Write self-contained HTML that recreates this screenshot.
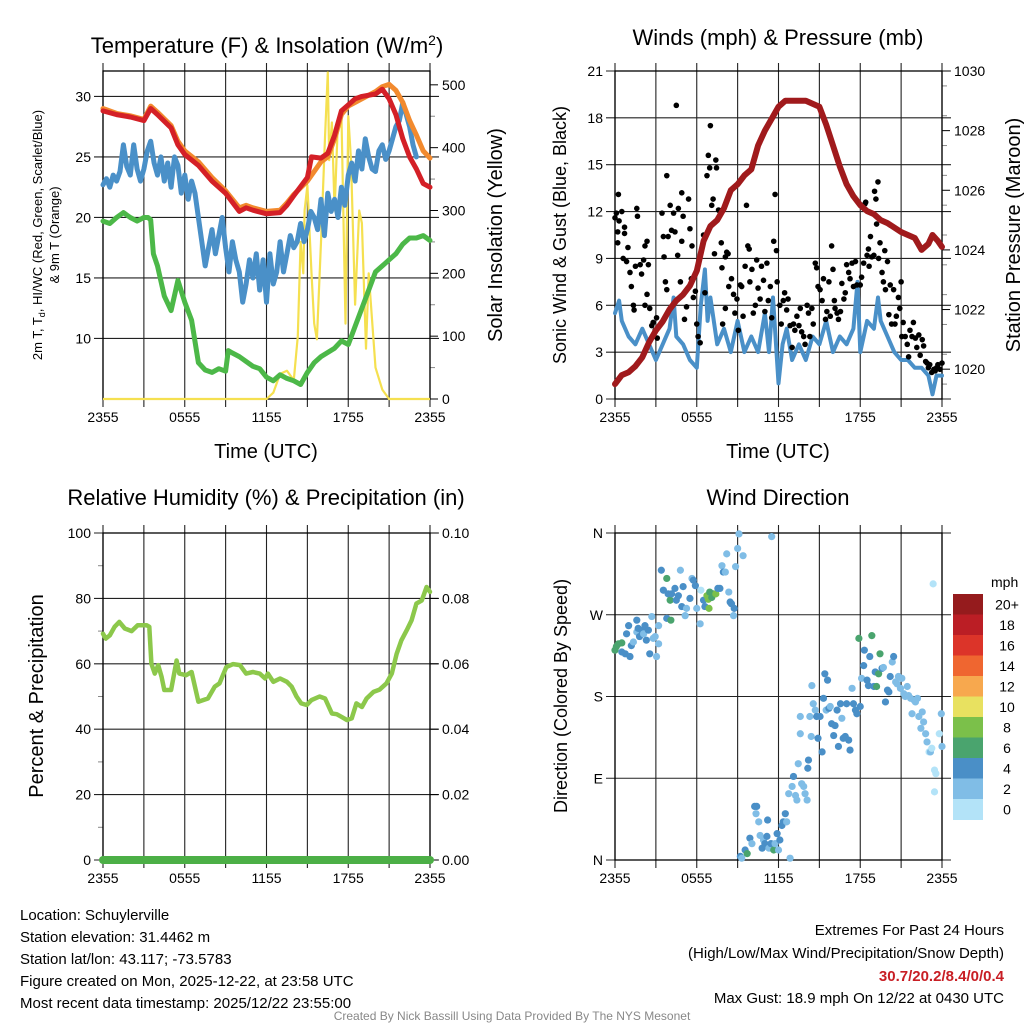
<!DOCTYPE html>
<html><head><meta charset="utf-8">
<style>
html,body{margin:0;padding:0;background:#fff;}
svg{display:block;font-family:"Liberation Sans",Arial,sans-serif;}
</style></head>
<body>
<svg id="fig" width="1024" height="1024" viewBox="0 0 1024 1024" xmlns="http://www.w3.org/2000/svg">
<rect x="0" y="0" width="1024" height="1024" fill="#fff"/>
<text x="267" y="53" font-size="22" text-anchor="middle">Temperature (F) &amp; Insolation (W/m<tspan dy="-8" font-size="14">2</tspan><tspan dy="8">)</tspan></text>
<text x="778" y="45" font-size="22" text-anchor="middle">Winds (mph) &amp; Pressure (mb)</text>
<text x="266" y="505" font-size="22" text-anchor="middle">Relative Humidity (%) &amp; Precipitation (in)</text>
<text x="778" y="505" font-size="22" text-anchor="middle">Wind Direction</text>

<text transform="translate(42,235) rotate(-90)" font-size="13" text-anchor="middle">2m T, T<tspan dy="3" font-size="9">d</tspan><tspan dy="-3">, HI/WC (Red, Green, Scarlet/Blue)</tspan></text>
<text transform="translate(59,235) rotate(-90)" font-size="13" text-anchor="middle">&amp; 9m T (Orange)</text>
<text transform="translate(502,235) rotate(-90)" font-size="20" text-anchor="middle">Solar Insolation (Yellow)</text>
<text transform="translate(566,235) rotate(-90)" font-size="18" text-anchor="middle">Sonic Wind &amp; Gust (Blue, Black)</text>
<text transform="translate(1020,235) rotate(-90)" font-size="20" text-anchor="middle">Station Pressure (Maroon)</text>
<text transform="translate(43,696) rotate(-90)" font-size="20" text-anchor="middle">Percent &amp; Precipitation</text>
<text transform="translate(567,696) rotate(-90)" font-size="18" text-anchor="middle">Direction (Colored By Speed)</text>
<text x="266" y="458" font-size="20" text-anchor="middle">Time (UTC)</text>
<text x="778" y="458" font-size="20" text-anchor="middle">Time (UTC)</text>

<g font-size="15">
<text x="20" y="920">Location: Schuylerville</text>
<text x="20" y="942">Station elevation: 31.4462 m</text>
<text x="20" y="964">Station lat/lon: 43.117; -73.5783</text>
<text x="20" y="986">Figure created on Mon, 2025-12-22, at 23:58 UTC</text>
<text x="20" y="1008">Most recent data timestamp: 2025/12/22 23:55:00</text>
</g>
<g font-size="15" text-anchor="end">
<text x="1004" y="935">Extremes For Past 24 Hours</text>
<text x="1004" y="958">(High/Low/Max Wind/Precipitation/Snow Depth)</text>
<text x="1004" y="981" fill="#c81e24" font-weight="bold">30.7/20.2/8.4/0/0.4</text>
<text x="1004" y="1003">Max Gust: 18.9 mph On 12/22 at 0430 UTC</text>
</g>
<text x="512" y="1020" font-size="12" fill="#888" text-anchor="middle">Created By Nick Bassill Using Data Provided By The NYS Mesonet</text>
</svg>
<script>
// ===== data =====
const xTickLabels = ["2355","0555","1155","1755","2355"];
const tempTicks = [10,15,20,25,30];
const solarTicks = [0,100,200,300,400,500];
const windTicks = [0,3,6,9,12,15,18,21];
const presTicks = [1020,1022,1024,1026,1028,1030];
const rhTicks = [0,20,40,60,80,100];
const precipTickLabels = ["0.00","0.02","0.04","0.06","0.08","0.10"];
const dirTickLabels = ["N","E","S","W","N"];
const cbLabels = ["20+","18","16","14","12","10","8","6","4","2","0"];
const cbColors = ["#951b1d","#bb1e25","#dc3429","#ef6630","#f7a84e","#e8e160","#7bc04a","#4aa46e","#4a8fc7","#80bde6","#b3e3f8"];

const redHours = [0,1,2,3,3.5,4,5,5.5,6,7,8,9,10,10.5,11,12,13,13.5,14,15,15.3,16,16.5,17,17.5,18,18.5,19,20,20.5,21,21.5,22,22.5,23,23.5,24];
const redTemp = [28.8,28.5,28.3,28.0,29.0,28.5,27.4,26.0,25.2,24.3,23.0,22.0,20.5,20.8,20.6,20.3,20.4,21.0,21.8,23.3,25.0,24.9,25.3,26.8,28.8,29.3,29.8,30.0,30.2,30.6,29.8,28.5,26.5,25.0,24.0,22.8,22.5];
const orangeHours = [0,1,2,3,3.5,4,5,5.5,6,7,8,9,10,10.5,11,12,13,13.5,14,15,16,16.5,17,17.5,18,19,20,20.5,21,21.5,22,22.5,23,23.5,24];
const orangeTemp = [29.0,28.6,28.4,28.1,29.2,28.7,27.6,26.3,25.5,24.6,23.3,22.2,20.8,21.0,20.8,20.5,20.6,21.2,21.9,23.0,24.6,25.0,26.5,28.5,29.2,29.8,30.4,30.8,31.0,30.5,29.5,28.0,26.8,25.5,24.9];
const greenHours = [0,0.5,1,1.5,2,2.5,3,3.3,3.5,3.7,4,4.5,5,5.5,6,6.5,7,7.5,8,8.5,9,9.2,9.5,10,11,11.5,12,12.5,13,13.5,14,14.5,15,15.5,16,17,17.5,18,18.5,19,19.5,20,20.5,21,21.5,22,22.5,23,23.5,24];
const greenTemp = [19.7,19.5,20.0,20.4,20.0,19.7,20.0,20.0,19.8,17.0,16.0,13.5,12.3,14.8,13.0,11.5,8.0,7.4,7.2,7.5,7.3,9.0,8.8,8.5,7.7,7.5,6.8,6.5,7.0,6.7,6.5,6.2,7.2,8.0,8.5,9.2,9.8,9.5,11.0,12.5,14.0,15.5,16.0,16.5,17.0,17.8,18.3,18.3,18.5,18.1];
const blueTemp = [22.7,23.2,22.5,23.5,23.0,23.8,26.0,24.2,23.5,26.0,24.0,23.0,24.0,25.5,26.3,24.5,23.5,25.0,23.0,24.5,22.5,25.0,24.3,22.0,23.5,21.5,23.0,22.0,20.0,18.0,16.0,17.5,19.0,17.0,18.5,20.0,17.5,15.5,18.0,16.5,15.5,13.0,14.5,16.5,15.0,17.0,14.0,16.5,13.0,17.0,14.5,15.5,18.0,15.5,17.0,18.5,17.5,18.0,19.5,18.0,19.0,20.5,20.0,19.0,21.5,18.5,22.0,20.5,21.5,20.0,22.5,21.0,23.5,24.5,23.0,25.5,24.0,26.5,25.0,24.0,23.8,25.5,26.0,24.8,25.5,26.5,27.5,28.0,29.5,28.5,27.5,26.0,25.0];
const solarHours = [0,12,12.5,13,13.5,14,14.3,14.5,14.7,14.8,15,15.3,15.5,15.7,16,16.3,16.5,16.6,16.8,17,17.2,17.5,17.8,18,18.2,18.5,18.8,19,19.3,19.5,20,20.5,21,24];
const solarVals = [0,0,10,40,45,30,100,250,200,300,340,200,120,95,250,420,520,380,440,300,420,455,120,450,380,150,300,280,80,200,50,15,0,0];

const presHours = [0,0.5,1,1.5,2,2.5,3,3.5,4,4.5,5,5.5,6,6.5,7,7.5,8,8.5,9,9.5,10,10.5,11,11.5,12,12.5,13,13.5,14,14.5,15,15.5,16,16.5,17,17.5,18,18.5,19,19.5,20,21,21.5,22,22.5,23,23.3,23.7,24];
const presVals = [1019.5,1019.8,1019.9,1020.1,1020.4,1020.9,1021.3,1021.6,1022.0,1022.3,1022.5,1022.8,1023.3,1024.3,1024.8,1025.0,1025.4,1026.0,1026.2,1026.5,1026.7,1027.5,1028.0,1028.4,1028.8,1029.0,1029.0,1029.0,1029.0,1028.9,1028.8,1028.2,1027.5,1026.8,1026.2,1025.8,1025.5,1025.3,1025.2,1025.0,1024.9,1024.6,1024.5,1024.4,1024.0,1024.2,1024.5,1024.3,1024.1];
const windHours = [0,0.3,0.5,1,1.5,2,2.5,3,3.5,4,4.3,4.5,5,5.5,6,6.3,6.6,6.8,7,7.5,8,8.5,9,9.5,10,10.5,11,11.3,11.6,12,12.3,12.6,13,13.5,14,14.5,15,15.5,16,16.5,17,17.5,17.8,18,18.5,19,19.3,19.5,20,20.5,21,21.5,22,22.5,23,23.3,23.6,24];
const windVals = [5.5,6.3,5.0,4.0,3.5,4.5,3.5,2.5,3.5,4.5,6.5,4.0,3.5,2.5,2.0,6.0,8.3,5.0,6.5,3.5,4.5,3.0,5.0,3.0,4.0,3.0,5.5,3.0,6.5,1.0,3.5,4.5,2.5,3.5,2.5,4.0,3.5,5.0,3.0,4.0,3.5,4.5,7.5,3.0,5.0,4.5,6.5,5.0,4.0,3.0,2.5,2.5,2.0,2.0,1.5,0.3,1.5,1.5];
const gustHours = [0,0.1,0.25,0.5,0.2,0.2,0.3,0.7,0.7,0.6,0.95,0.85,1.1,1.2,1.35,1.4,1.6,1.65,1.5,1.85,1.95,2.1,2.2,2.35,2.45,2.2,2.35,2.55,2.7,2.8,2.95,3.05,3.1,3.45,3.55,3.6,3.7,3.8,3.8,3.9,4.05,4.15,4.3,4.4,4.5,4.6,4.65,4.8,4.9,4.9,5.0,5.1,5.25,5.4,5.5,5.6,5.65,5.75,5.9,6.0,6.1,6.25,6.5,6.6,6.75,6.85,6.95,7.0,7.1,7.2,7.3,7.4,7.45,7.6,7.7,7.8,7.85,7.9,8.1,8.1,8.2,8.3,8.35,8.55,8.7,8.8,8.95,9.05,9.2,9.3,9.4,9.55,9.65,9.75,9.85,9.9,10.05,10.15,10.3,10.4,10.5,10.65,10.75,10.9,11.0,11.15,11.25,11.4,11.5,11.65,11.75,11.85,11.9,12.1,12.2,12.35,12.45,12.6,12.7,12.85,13.0,13.1,13.2,13.35,13.5,13.6,13.7,13.85,13.95,14.1,14.2,14.3,14.45,14.55,14.7,14.8,14.9,15.05,15.2,15.3,15.45,15.55,15.7,15.8,15.9,16.0,16.1,16.15,16.3,16.4,16.55,16.65,16.8,16.9,17.0,17.15,17.25,17.4,17.5,17.65,17.75,18.0,18.1,18.25,18.35,18.4,18.5,18.6,18.65,18.75,18.85,19.0,19.05,19.15,19.2,19.3,19.35,19.45,19.6,19.7,19.8,19.85,20.0,20.1,20.2,20.3,20.45,20.55,20.65,20.8,20.9,21.0,21.05,21.15,21.3,21.45,21.55,21.65,21.8,21.9,22.05,22.15,22.3,22.4,22.55,22.65,22.8,22.9,23.0,23.1,23.25,23.4,23.5,23.6,23.7,23.85,24.0];
const gustVals = [11.6,11.9,13.1,12.0,10.7,10.0,11.4,10.6,11.0,9.0,9.7,8.8,8.1,7.2,6.0,5.7,12.2,11.7,8.5,8.6,8.0,8.9,9.8,10.1,8.6,6.0,6.7,5.8,4.7,4.9,4.4,5.2,3.9,11.9,10.4,9.1,7.5,7.0,14.3,10.4,12.4,10.8,11.9,10.7,18.8,9.2,12.2,7.5,13.2,10.1,11.7,5.1,5.9,12.8,10.9,7.7,9.8,6.5,6.9,4.8,4.0,3.6,10.5,6.8,14.3,15.6,14.8,17.5,12.4,12.8,9.3,15.3,14.8,12.1,12.0,10.0,8.4,4.8,5.8,9.1,9.4,9.3,7.2,7.7,6.7,5.5,6.4,4.4,7.3,7.2,5.3,8.5,12.4,9.8,9.6,7.5,8.3,5.5,6.0,8.9,7.1,6.4,8.5,7.6,5.6,8.7,6.3,7.2,5.2,10.1,13.1,9.5,7.5,6.0,4.8,6.3,6.8,5.7,6.4,4.7,3.3,4.8,4.4,5.3,4.7,5.8,4.3,4.0,3.5,6.0,5.5,4.0,5.8,4.8,8.7,8.4,7.2,7.0,6.3,7.7,5.1,5.6,7.5,5.3,9.8,8.3,6.3,5.8,5.5,5.1,5.6,7.4,6.4,6.8,8.6,8.1,7.7,8.7,7.2,8.8,7.3,7.3,7.8,8.7,12.5,12.6,9.2,9.6,8.5,10.4,9.1,9.2,13.3,12.8,11.2,13.9,9.0,10.0,8.1,7.5,9.5,7.0,8.8,5.4,7.3,4.8,7.0,4.8,5.3,6.5,5.8,7.5,4.0,4.9,4.0,3.5,2.7,4.4,4.0,4.9,3.9,3.3,4.1,2.8,3.8,3.4,2.4,2.3,2.0,2.2,1.7,1.9,1.8,2.0,2.2,1.9,2.3];

const rhHours = [0,0.2,0.5,0.85,1.2,1.6,2.1,2.55,3.2,3.4,3.55,3.8,4.05,4.3,4.5,5.0,5.4,5.6,6.1,6.5,7.0,7.35,7.7,8.2,8.55,9.05,9.55,10.05,10.5,11.0,11.5,11.9,12.1,12.5,13.0,13.5,13.85,14.2,14.55,14.95,15.3,15.9,16.3,16.8,17.15,17.5,17.9,18.25,18.6,19.0,19.35,19.85,20.3,20.8,21.2,21.55,21.9,22.3,22.65,23.0,23.4,23.75,24];
const rhVals = [69.2,67.7,68.7,71.3,72.8,70.8,70.0,71.8,71.8,71.3,60.0,57.0,59.6,56.0,52.0,52.0,61.0,57.0,56.5,57.5,48.4,48.9,49.4,53.0,54.0,59.0,59.9,59.6,57.0,57.5,57.0,55.5,57.0,54.5,55.5,54.5,53.0,50.0,47.9,47.4,48.9,50.0,49.4,44.8,44.6,43.8,42.8,43.3,47.9,46.8,49.4,51.4,52.1,54.0,57.0,63.0,67.2,70.3,73.3,78.4,79.4,83.5,82.0];
const precipHours = [0,24];
const precipVals = [0,0];

const dirHours = [0,0.1,0.25,0.5,0.5,0.75,0.85,1,1.1,1.2,1.35,1.6,1.6,1.7,1.8,1.95,2.1,2.2,2.3,2.45,2.55,2.7,2.8,2.95,3.05,3.2,3.2,3.4,3.55,3.8,3.8,3.9,4.05,4.1,4.15,4.4,4.5,4.65,4.8,4.9,5.0,5.15,5.25,5.5,5.65,5.75,5.9,6.0,6.25,6.3,6.5,6.6,6.75,6.85,6.9,6.95,7.1,7.2,7.4,7.55,7.7,7.85,7.95,8.1,8.2,8.35,8.45,8.55,8.7,8.75,8.85,9.0,9.1,9.4,11.5,9.2,9.3,9.55,9.7,9.9,10.05,10.25,10.35,10.4,10.55,10.65,10.8,10.9,11.0,11.15,11.2,11.3,11.45,11.65,11.75,11.9,12.0,12.1,12.25,12.35,12.5,12.6,12.75,12.85,13.0,13.1,13.25,13.35,13.45,13.6,13.6,13.7,13.85,13.95,14.1,14.15,14.2,14.3,14.4,14.45,14.55,14.7,14.8,14.9,15.05,15.2,15.3,15.4,15.5,15.6,15.7,15.8,15.9,16.05,16.15,16.3,16.4,16.55,16.65,16.75,16.9,17.0,17.15,17.25,17.4,17.5,17.65,17.75,17.9,18.0,18.1,18.25,18.3,18.5,18.6,18.7,18.85,19.0,19.1,19.2,19.35,19.45,19.6,19.7,19.85,20.0,20.1,20.2,20.35,20.45,20.6,20.7,20.8,20.95,21.05,21.2,21.3,21.45,21.55,21.7,21.8,21.95,22.05,22.2,22.3,22.45,22.55,22.65,22.8,22.9,23.05,23.15,23.25,23.35,23.45,23.55,23.45,23.8,23.95,24];
const dirVals = [231,235,238,239,229,227,249,258,224,236,240,264,251,255,246,253,249,258,242,253,227,268,244,246,224,258,238,319,297,310,266,293,286,264,293,299,286,291,319,279,301,269,277,288,310,308,302,277,260,297,286,279,291,287,277,295,289,293,293,299,299,324,317,317,337,295,284,282,269,277,323,343,359,335,356,4,2,11,7,24,18,59,51,59,42,27,13,22,18,26,44,13,18,11,18,29,11,22,38,42,51,42,73,2,81,92,71,66,106,158,139,84,81,73,66,101,110,158,136,192,172,165,158,134,158,119,178,205,165,198,167,169,150,137,148,165,125,172,156,134,136,172,132,121,189,172,165,161,244,169,200,214,231,198,192,224,247,191,207,191,205,227,211,212,174,187,185,202,218,224,196,194,202,189,200,183,180,191,181,178,161,176,174,178,158,145,163,152,139,130,119,119,123,304,99,95,75,139,161,125];
const dirSpeeds = [6,7,6,7,4,4,4,4,4,4,3,4,3,4,4,4,3,4,4,4,4,3,3,3,3,3,3,4,4,6,4,4,6,6,4,4,4,4,3,4,4,3,3,4,3,4,4,3,3,1,4,4,8,8,8,6,6,6,8,4,4,3,4,3,3,3,4,4,3,4,3,3,2.5,3,3,4,3,4,6,4,3,4,3,4,3,3,4,3,4,4,4,3,4,7,3,4,3,4,4,4,4,3,3,2,3,4,3,3,3,3,3,3,3,3,3,4,4,3,3,3,3,3,4,4,4,4,4,4,3,4,4,3,4,4,4,4,4,4,3,4,4,4,4,4,3,4,4,4,7,4,3,4,4,4,4,4,6,4,4,7,6,6,4,3,4,4,4,4,3,4,3,3,3,3,3,3,3,3,3,3,3,3,3,3,3,3,3,3,2.5,3,1.5,3,1.5,1,1,1,1,1.5,2.5,3.5];

// ===== helpers =====
const NS = "http://www.w3.org/2000/svg";
const fig = document.getElementById('fig');
function mk(tag, attrs, parent){ const e=document.createElementNS(NS,tag); for(const k in attrs) e.setAttribute(k,attrs[k]); (parent||fig).appendChild(e); return e; }
function lin(d0,d1,r0,r1){ return v => r0 + (v-d0)*(r1-r0)/(d1-d0); }
function pathD(xs, ys, sx, sy){ return xs.map((h,i)=>(i?'L':'M')+sx(h).toFixed(1)+','+sy(ys[i]).toFixed(1)).join(''); }

function frame(g, L, R, T, B, sx){
  // vertical grid every 3h
  for(let h=0; h<=24; h+=3){
    const l = mk('line',{x1:sx(h),x2:sx(h),y1:T-8,y2:B+8,stroke:'#222','stroke-width':1.1},g);
    
    
  }
  xTickLabels.forEach((t,i)=>{
    const tx = mk('text',{x:sx(i*6),y:B+23,'font-size':14,'text-anchor':'middle'},g);
    tx.textContent=t;
    
    
  });
  const box = mk('rect',{x:L,y:T,width:R-L,height:B-T,fill:'none',stroke:'#000','stroke-width':1.3},g);
  
  
}
function hgrid(g, L, R, y){ mk('line',{x1:L-9,x2:R+9,y1:y,y2:y,stroke:'#222','stroke-width':1.1},g); }
function leftLabel(g, L, y, t){ const e=mk('text',{x:L-12,y:y+5,'font-size':14,'text-anchor':'end'},g); e.textContent=t;   }
function rightLabel(g, R, y, t){ const e=mk('text',{x:R+12,y:y+5,'font-size':14,'text-anchor':'start'},g); e.textContent=t;   }

// ===== panel 1: temperature =====
(function(){
  const L=103,R=430,T=71,B=399;
  const g = mk('g',{});  
  const sx = lin(0,24,L,R), sy = lin(5,32.1,B,T), sr = lin(0,522,B,T);
  tempTicks.forEach(v=>{ hgrid(g,L,R,sy(v)); leftLabel(g,L,sy(v),String(v)); });
  solarTicks.forEach(v=>{ rightLabel(g,R,sr(v),String(v)); mk('line',{x1:R,x2:R+8,y1:sr(v),y2:sr(v),stroke:'#000'},g); });
  for(let v=50; v<522; v+=100) mk('line',{x1:R,x2:R+5,y1:sr(v),y2:sr(v),stroke:'#888'},g);
  frame(g,L,R,T,B,sx);
  const sol = mk('path',{d:pathD(solarHours,solarVals,sx,sr),fill:'none',stroke:'#f5e050','stroke-width':2.2,'stroke-linejoin':'round'},g);
   
  const gr = mk('path',{d:pathD(greenHours,greenTemp,sx,sy),fill:'none',stroke:'#4cb848','stroke-width':5,'stroke-linejoin':'round','stroke-linecap':'round'},g);
   
  const bh = blueTemp.map((v,i)=>i*0.25);
  const bl = mk('path',{d:pathD(bh,blueTemp,sx,sy),fill:'none',stroke:'#4a90c8','stroke-width':5,'stroke-linejoin':'round','stroke-linecap':'round'},g);
   
  const or = mk('path',{d:pathD(orangeHours,orangeTemp,sx,sy),fill:'none',stroke:'#f28a2e','stroke-width':5,'stroke-linejoin':'round','stroke-linecap':'round'},g);
   
  const rd = mk('path',{d:pathD(redHours,redTemp,sx,sy),fill:'none',stroke:'#d42027','stroke-width':5,'stroke-linejoin':'round','stroke-linecap':'round'},g);
   
})();

// ===== panel 2: wind & pressure =====
(function(){
  const L=615,R=942,T=71,B=399;
  const g = mk('g',{});  
  const sx = lin(0,24,L,R), sy = lin(0,21,B,T), sp = lin(1019,1030,B,T);
  windTicks.forEach(v=>{ hgrid(g,L,R,sy(v)); leftLabel(g,L,sy(v),String(v)); });
  presTicks.forEach(v=>{ rightLabel(g,R,sp(v),String(v)); mk('line',{x1:R,x2:R+8,y1:sp(v),y2:sp(v),stroke:'#000'},g); });
  for(let v=1019.5; v<1030; v+=1) mk('line',{x1:R,x2:R+5,y1:sp(v),y2:sp(v),stroke:'#888'},g);
  frame(g,L,R,T,B,sx);
  const w = mk('path',{d:pathD(windHours,windVals,sx,sy),fill:'none',stroke:'#4a90c8','stroke-width':4,'stroke-linejoin':'round','stroke-linecap':'round'},g);
   
  gustHours.forEach((h,i)=>{
    const c = mk('circle',{cx:sx(h),cy:sy(gustVals[i]),r:2.8,fill:'#000'},g);
    
    
  });
  const p = mk('path',{d:pathD(presHours,presVals,sx,sp),fill:'none',stroke:'#a01a1c','stroke-width':6,'stroke-linejoin':'round','stroke-linecap':'round'},g);
   
})();

// ===== panel 3: RH & precip =====
(function(){
  const L=103,R=430,T=533,B=860;
  const g = mk('g',{});  
  const sx = lin(0,24,L,R), sy = lin(0,100,B,T), sq = lin(0,0.1,B,T);
  rhTicks.forEach(v=>{ hgrid(g,L,R,sy(v)); leftLabel(g,L,sy(v),String(v)); });
  precipTickLabels.forEach((t,i)=>{ const y=sq(i*0.02); rightLabel(g,R,y,t); mk('line',{x1:R,x2:R+8,y1:y,y2:y,stroke:'#000'},g); });
  for(let v=10; v<100; v+=20) mk('line',{x1:L-5,x2:L,y1:sy(v),y2:sy(v),stroke:'#888'},g);
  frame(g,L,R,T,B,sx);
  const rh = mk('path',{d:pathD(rhHours,rhVals,sx,sy),fill:'none',stroke:'#8cc84b','stroke-width':4.5,'stroke-linejoin':'round','stroke-linecap':'round'},g);
   
  const pr = mk('path',{d:pathD(precipHours,precipVals,sx,sq),fill:'none',stroke:'#4caf46','stroke-width':8,'stroke-linecap':'round'},g);
   
})();

// ===== panel 4: wind direction =====
(function(){
  const L=615,R=942,T=533,B=860;
  const g = mk('g',{});  
  const sx = lin(0,24,L,R), sy = lin(0,360,B,T);
  dirTickLabels.forEach((t,i)=>{ hgrid(g,L,R,sy(i*90)); leftLabel(g,L,sy(i*90),t); });
  frame(g,L,R,T,B,sx);
  function spdColor(s){ const idx = Math.min(10, Math.floor(s/2)); return cbColors[10-idx]; }
  dirHours.forEach((h,i)=>{
    const c = mk('circle',{cx:sx(h),cy:sy(dirVals[i]),r:3.6,fill:spdColor(dirSpeeds[i])},g);
    
    
  });
  // colorbar
  const cb = mk('g',{});  
  const cbT=594, cbH=20.5;
  const unit = mk('text',{x:991,y:587,'font-size':14},cb); unit.textContent='mph';
  cbLabels.forEach((t,i)=>{
    const r = mk('rect',{x:953,y:cbT+i*cbH,width:30,height:cbH+0.5,fill:cbColors[i]},cb);
    
    
    const tx = mk('text',{x:1007,y:cbT+i*cbH+cbH/2+5,'font-size':14,'text-anchor':'middle'},cb);
    tx.textContent=t;
    
    
  });
})();
</script>
</body></html>
